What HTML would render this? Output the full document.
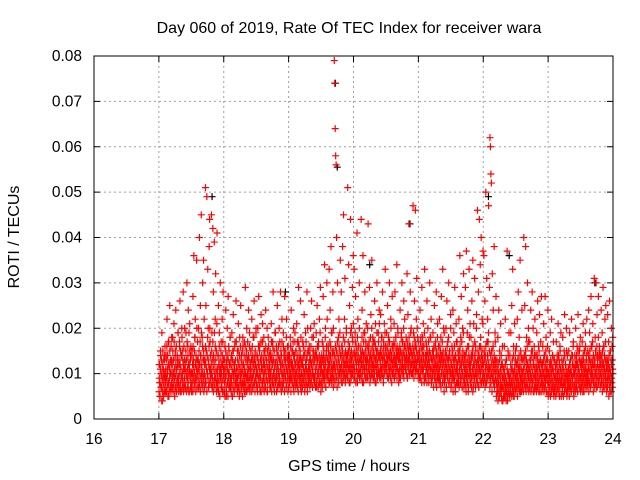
<!DOCTYPE html>
<html><head><meta charset="utf-8"><style>
body{margin:0;background:#fff;}
svg{display:block;font-family:"Liberation Sans",sans-serif;}
</style></head><body>
<svg id="chart" width="640" height="480" viewBox="0 0 640 480"></svg>
<script>
const xTicks=[16,17,18,19,20,21,22,23,24];
const yTicks=[0,0.01,0.02,0.03,0.04,0.05,0.06,0.07,0.08];
const yTickLabels=["0","0.01","0.02","0.03","0.04","0.05","0.06","0.07","0.08"];
const binStart=17.0, binWidth=0.1;
const redBins=[
"12 8 5 15 10 7 19 4 11 9 13 6 14 10","9 14 6 22 11 8 17 5 12 25 7 10 16 13","10 18 7 13 21 9 6 15 24 11 8 14 12 19",
"8 12 17 26 6 10 14 20 9 15 28 11 7 13","11 7 19 13 30 9 16 24 6 12 21 10 14 8","6 15 10 27 12 36 8 18 22 9 13 35 11 17",
"9 20 12 40 7 25 14 45 10 18 30 8 35 13","12 8 51 25 15 49 10 33 20 7 38 44 17 11","10 45 19 7 42 28 13 39 9 22 32 15 6 41",
"8 14 25 6 19 11 30 9 17 7 22 12 28 10","11 6 16 9 24 5 13 20 8 27 10 15 7 18","7 13 9 19 5 15 23 10 6 12 17 8 26 11",
"9 15 7 21 12 6 18 10 25 8 14 11 5 16","12 8 17 10 29 6 14 20 9 13 7 24 11 16","6 11 15 9 22 13 7 18 10 26 8 14 12 19",
"10 14 7 20 12 27 9 16 6 13 23 11 8 17","8 12 18 10 15 7 24 9 13 20 6 11 16 14","11 7 14 9 21 13 8 17 28 10 15 6 12 19",
"9 16 11 25 7 14 10 20 8 13 28 12 6 17","12 8 19 10 15 27 9 13 7 22 11 16 6 14","7 13 10 18 9 24 12 8 15 11 20 6 14 17",
"10 15 8 21 12 7 17 29 11 9 14 26 13 6","8 12 17 9 14 23 10 7 19 13 11 28 6 15","11 9 16 13 8 20 12 26 10 7 15 18 14 9",
"9 14 11 19 7 25 13 10 16 8 22 12 29 6","12 8 17 10 27 14 9 34 11 20 7 15 30 13","10 16 12 33 8 24 14 38 9 19 11 28 7 15",
"79 74 64 58 56 40 12 30 9 18 22 10 15 35","11 28 8 16 38 13 45 10 22 31 9 14 19 12","9 51 15 34 11 25 8 44 13 20 10 29 17 36",
"12 33 9 19 27 14 11 41 8 22 16 10 30 13","10 15 44 12 24 8 36 14 19 11 28 9 17 21","13 9 20 43 11 16 29 8 14 23 10 35 12 18",
"11 17 9 26 13 21 8 15 30 12 10 19 14 24","9 14 23 11 18 10 28 13 8 16 21 12 33 15","12 19 10 25 14 9 17 30 11 15 22 13 8 27",
"10 16 13 21 9 28 12 18 14 34 11 20 15 8","13 9 24 15 11 19 30 12 17 10 26 14 22 16","11 18 14 32 9 23 13 43 16 10 28 15 20 12",
"14 10 47 19 12 26 16 46 11 22 31 13 18 9","10 15 12 24 9 18 13 29 11 16 21 14 8 33","12 9 17 14 26 10 20 13 8 15 30 11 18 22",
"8 13 10 19 15 11 25 9 16 12 28 7 14 21","11 16 9 22 13 8 18 27 10 14 33 12 20 6","9 14 12 20 7 26 10 17 13 30 8 15 11 23",
"7 12 16 10 24 9 19 13 29 6 14 21 11 17","10 15 8 22 13 36 9 18 27 12 7 20 14 32","8 14 11 29 7 37 10 19 24 6 16 33 12 21",
"11 18 9 26 14 35 7 21 12 31 10 16 8 23","9 46 13 28 7 44 11 34 16 40 8 22 12 37","10 36 14 26 8 50 12 31 9 22 17 47 11 29",
"62 60 54 52 15 32 9 24 12 38 8 19 13 27","8 13 6 18 10 24 5 15 9 21 7 12 4 16","7 11 5 16 9 22 6 13 8 37 4 15 10 19",
"9 14 6 19 8 25 11 33 5 16 10 21 7 13","10 16 7 22 12 28 8 18 11 35 6 14 9 24","8 13 11 40 9 25 14 38 7 18 12 30 10 20",
"11 7 17 13 24 9 15 28 8 20 12 6 14 22","9 14 7 19 11 26 8 16 12 23 6 13 10 27","8 12 16 10 21 7 14 27 9 18 11 6 13 24",
"10 6 15 9 19 12 7 22 11 14 8 17 5 13","7 12 9 17 6 14 10 21 8 13 5 16 11 19","9 13 6 18 11 8 15 23 7 12 10 20 5 14",
"8 11 15 7 19 10 13 6 22 9 14 12 17 5","10 14 7 20 9 12 16 6 23 11 8 15 13 18","7 12 10 17 8 21 13 6 15 11 19 9 14 22",
"9 15 11 24 8 19 13 7 27 10 16 12 21 6","8 31 12 18 10 30 7 23 14 9 27 11 16 13","10 14 24 8 19 12 29 7 16 11 22 9 25 13",
"7 12 23 9 17 11 26 6 15 10 20 8 13 18"];
const coreBins=[
"6 9 12 5 8 11 14 7 10 13 4 9 12 6 15 8 11 5 10 7 13 9 16 6","8 11 6 13 9 16 7 10 14 5 12 8 17 6 11 9 15 7 10 13 6 12 8 18","7 12 9 15 6 10 13 8 17 11 5 9 14 7 12 10 16 6 11 8 13 9 19 7",
"9 6 13 10 16 7 12 8 15 11 6 14 9 18 7 10 13 8 12 6 16 11 9 20","8 12 7 15 10 6 13 9 17 11 7 14 8 12 10 19 6 11 15 9 13 7 16 10","7 10 14 8 12 6 16 9 13 11 7 15 10 18 8 12 6 14 9 11 20 7 13 10",
"9 13 7 11 15 8 12 10 17 6 14 9 12 19 8 11 7 16 10 13 9 15 6 22","10 7 13 9 16 12 8 15 11 6 14 10 18 9 13 7 12 16 8 11 20 10 14 9","8 12 10 15 7 13 9 17 11 6 14 8 12 19 10 7 16 9 13 11 15 8 21 10",
"7 11 9 14 6 12 8 16 10 5 13 9 11 15 7 10 12 8 14 6 17 9 11 13","6 10 8 13 5 11 9 15 7 12 6 10 14 8 11 5 13 9 16 7 10 12 8 18","7 9 12 6 14 8 11 5 13 10 7 15 9 12 6 11 16 8 10 13 7 9 17 11",
"8 11 6 13 9 15 7 10 12 5 14 8 11 16 9 6 13 10 7 12 15 8 18 10","7 12 9 14 6 11 8 16 10 13 7 9 15 6 12 10 17 8 11 14 9 13 7 19","9 7 12 10 15 8 13 6 11 16 9 14 7 12 10 18 8 13 11 6 15 9 12 20",
"8 11 7 14 10 6 13 9 16 12 8 11 15 7 10 13 9 17 6 12 14 8 11 21","7 10 13 9 15 6 12 8 14 11 7 16 10 13 9 12 6 15 8 11 18 10 13 9","9 12 8 15 10 7 13 11 17 6 14 9 12 16 8 10 13 7 15 11 9 19 12 8",
"8 13 10 6 15 9 12 7 14 11 16 8 10 13 9 17 7 12 11 15 8 14 10 22","10 7 12 9 16 8 14 11 6 13 10 15 9 12 7 18 11 8 14 10 13 9 16 12","7 11 9 14 8 12 10 16 6 13 9 11 15 8 12 10 17 7 14 9 11 13 8 19",
"9 12 7 15 10 8 13 11 17 9 14 6 12 10 16 8 13 11 15 9 7 18 12 10","8 10 13 7 12 9 16 11 8 14 10 6 15 9 12 11 17 8 13 10 14 7 20 9","10 8 12 15 9 11 7 14 10 13 16 8 12 9 18 11 7 13 10 15 9 12 21 8",
"9 13 10 7 15 11 8 14 12 9 16 10 13 7 17 11 9 14 12 8 19 10 13 11","8 11 14 10 7 13 9 16 12 10 15 8 11 13 9 18 12 7 14 10 16 9 22 11","10 13 9 15 11 8 14 12 17 10 9 16 13 11 19 8 12 15 10 14 9 20 12 11",
"9 12 14 8 11 16 10 13 9 15 12 7 17 11 14 10 13 8 16 12 10 19 11 14","11 9 14 12 16 10 8 15 13 11 18 9 12 14 10 17 12 8 15 11 13 20 10 14","10 14 12 9 17 11 15 13 8 16 12 10 14 19 11 9 15 13 12 18 10 14 11 21",
"12 9 15 11 14 10 17 13 8 16 12 11 15 9 18 13 10 14 12 16 11 20 9 13","10 13 11 16 9 14 12 18 10 15 11 13 8 17 12 14 10 19 11 15 13 9 16 12","11 14 10 13 16 9 12 15 11 17 13 10 14 12 18 9 15 11 13 20 10 16 12 14",
"9 12 15 11 14 10 17 12 8 16 13 11 14 10 19 12 9 15 13 11 17 10 14 21","10 13 11 15 12 9 16 14 11 18 10 13 12 15 9 17 11 14 13 10 19 12 16 11","11 14 12 10 16 13 9 15 12 18 11 14 10 17 13 12 15 9 20 11 14 13 16 10",
"12 10 15 13 11 17 9 14 12 16 10 13 18 11 15 12 9 16 14 11 19 13 10 15","10 14 11 16 13 9 15 12 18 11 14 10 17 13 12 15 11 20 9 14 16 12 13 11","11 13 15 10 14 12 17 9 16 13 11 15 12 18 10 14 13 16 11 19 12 15 10 14",
"12 14 10 16 13 11 15 9 18 12 14 11 17 13 10 16 12 15 11 20 13 14 10 17","10 13 11 15 9 14 12 17 10 16 11 13 8 15 12 18 10 14 11 13 16 9 19 12","9 12 14 10 13 11 16 8 15 12 10 14 11 17 9 13 12 15 10 18 11 14 9 13",
"8 11 13 9 15 10 12 14 7 16 11 9 13 12 10 17 8 14 11 15 9 12 18 10","9 12 10 14 8 13 11 16 9 15 12 7 14 10 13 11 17 8 12 15 10 13 9 19","8 11 13 9 15 10 12 7 14 11 16 9 13 10 12 18 8 14 11 15 9 13 10 20",
"7 10 12 8 14 9 11 15 6 13 10 12 8 16 9 11 14 7 13 10 17 8 12 11","8 12 10 14 9 13 7 15 11 10 16 8 12 14 9 11 17 7 13 10 15 9 19 12","7 11 9 13 8 14 10 12 6 15 9 11 13 8 16 10 12 7 14 9 18 11 13 10",
"8 12 10 14 7 13 9 15 11 6 16 10 12 8 14 9 17 11 13 7 15 10 20 12","9 11 13 8 15 10 12 7 14 11 16 9 13 10 18 8 12 14 11 15 9 13 21 10","8 12 10 15 9 13 7 14 11 16 10 12 8 17 9 14 11 13 10 19 12 9 15 11",
"7 11 9 14 8 12 10 15 6 13 9 11 16 8 12 10 14 7 13 11 17 9 12 10","5 8 6 11 7 9 4 12 8 6 10 5 13 7 9 11 6 8 14 5 10 7 12 9","4 7 9 5 11 6 8 10 5 12 7 9 4 13 6 8 11 5 10 7 14 6 9 8",
"5 8 6 10 7 12 9 5 11 8 6 13 7 9 10 6 14 8 5 11 7 12 9 15","6 9 7 12 8 10 5 13 9 7 11 8 14 6 10 12 7 9 15 8 11 6 13 10","7 10 8 13 6 11 9 14 8 12 7 10 15 9 6 13 11 8 16 10 7 12 9 17",
"6 9 11 7 13 8 10 12 6 14 9 7 11 15 8 10 13 6 12 9 16 7 11 10","7 10 8 12 6 11 9 14 7 13 10 8 12 6 15 9 11 7 13 10 17 8 12 9","6 9 11 7 12 8 10 13 6 14 9 11 7 12 8 15 10 6 13 9 11 16 8 10",
"5 8 10 6 12 7 9 11 5 13 8 10 6 12 9 7 14 8 11 6 10 13 7 9","6 9 7 11 5 10 8 12 6 13 9 7 11 8 14 6 10 9 12 7 15 8 11 9","5 8 10 6 12 7 9 11 5 13 8 10 6 14 9 7 12 8 11 6 15 9 10 7",
"6 9 7 11 8 10 5 12 9 7 13 8 11 6 10 14 7 9 12 8 16 10 6 11","7 10 8 12 6 11 9 13 7 14 8 10 12 6 15 9 11 8 13 10 7 16 9 12","6 9 11 7 13 8 10 12 6 14 9 11 7 15 10 8 12 9 16 7 11 13 8 10",
"7 10 8 12 9 14 6 11 13 8 15 10 7 12 9 16 11 8 13 10 17 9 12 14","8 11 9 13 7 12 10 15 8 14 11 9 16 7 12 13 10 18 8 11 14 9 15 12","7 10 12 8 14 9 11 13 6 15 10 8 12 16 9 11 14 7 13 10 17 8 12 11",
"6 9 11 7 13 8 10 12 5 14 9 7 11 15 8 10 13 6 12 9 16 7 11 10"];
const blackTimes=[19.72,19.75,20.87,22.08,17.82,23.72,22.4,18.95,20.25];
const blackValues=[0.074,0.0555,0.043,0.049,0.049,0.030,0.036,0.028,0.034];

const svg=document.getElementById('chart');
const NS='http://www.w3.org/2000/svg';
const L=94,R=613,T=56,B=419;
const xs=v=>L+(v-16)/8*(R-L);
const ys=v=>B-v/0.08*(B-T);
function mk(tag,attrs,parent){const e=document.createElementNS(NS,tag);for(const k in attrs)e.setAttribute(k,attrs[k]);(parent||svg).appendChild(e);return e;}

const grid=mk('g',{});


xTicks.forEach((t,i)=>{
  if(i>0&&i<xTicks.length-1){mk('line',{x1:xs(t),x2:xs(t),y1:T,y2:B,stroke:'#a0a0a0','stroke-dasharray':'2,3'},grid);}
  mk('line',{x1:xs(t),x2:xs(t),y1:B,y2:B-6,stroke:'#000'},grid);
  mk('line',{x1:xs(t),x2:xs(t),y1:T,y2:T+6,stroke:'#000'},grid);
  const tx=mk('text',{x:xs(t),y:444,'text-anchor':'middle','font-size':'15.5',fill:'#000'});
  
  
  tx.textContent=t;
});
yTicks.forEach((v,i)=>{
  if(i>0&&i<yTicks.length-1){mk('line',{x1:L,x2:R,y1:ys(v),y2:ys(v),stroke:'#a0a0a0','stroke-dasharray':'2,3'},grid);}
  mk('line',{x1:L,x2:L+6,y1:ys(v),y2:ys(v),stroke:'#000'},grid);
  mk('line',{x1:R,x2:R-6,y1:ys(v),y2:ys(v),stroke:'#000'},grid);
  const tx=mk('text',{x:82,y:ys(v)+5,'text-anchor':'end','font-size':'15.5',fill:'#000'});
  
  
  tx.textContent=yTickLabels[i];
});

function plus(g,x,y,c){mk('path',{d:`M${x-3.5} ${y}h7M${x} ${y-3.5}v7`,stroke:c,'stroke-width':'1.2',fill:'none'},g);}
const black=mk('g',{});


blackTimes.forEach((t,i)=>plus(black,xs(t),ys(blackValues[i]),'#000'));
const red=mk('g',{});


function drawBins(bins,offset){
  bins.forEach((s,b)=>{
    const vals=s.trim().split(/\s+/).map(Number);
    vals.forEach((v,i)=>{
      const t=binStart+b*binWidth+((i+offset)%vals.length+0.5)/vals.length*binWidth;
      plus(red,xs(t),ys(v/1000),'#ff0000');
    });
  });
}
drawBins(coreBins,0);
drawBins(redBins,0);

const frame=mk('rect',{x:L,y:T,width:R-L,height:B-T,fill:'none',stroke:'#000','stroke-width':'1'});



const title=mk('text',{x:349,y:33,'text-anchor':'middle','font-size':'16',fill:'#000'});


title.textContent='Day 060 of 2019, Rate Of TEC Index for receiver wara';
const xl=mk('text',{x:349,y:471,'text-anchor':'middle','font-size':'16',fill:'#000'});


xl.textContent='GPS time / hours';
const yl=mk('text',{x:0,y:0,'text-anchor':'middle','font-size':'16',fill:'#000',transform:'translate(19,237) rotate(-90)'});


yl.textContent='ROTI / TECUs';
</script>
</body></html>
